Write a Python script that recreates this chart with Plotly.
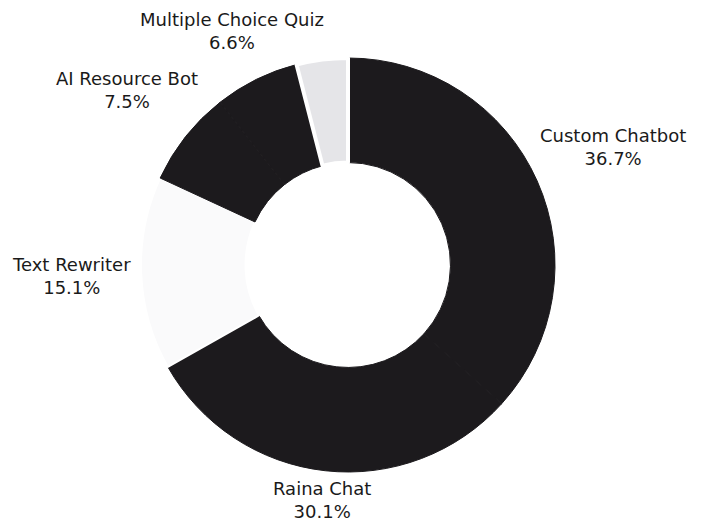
import math
import plotly.graph_objects as go

labels = ["Custom Chatbot", "Raina Chat", "Text Rewriter", "AI Resource Bot", "Multiple Choice Quiz", "Other"]
values = [36.7, 30.1, 15.1, 7.5, 6.6, 4.0]
show_label = [True, True, True, True, True, False]
colors = ["#1c1a1d", "#1c1a1d", "#fafafb", "#1c1a1d", "#1c1a1d", "#e5e5e8"]
line_colors = ["#1c1a1d", "#1c1a1d", "#ffffff", "#1c1a1d", "#1c1a1d", "#ffffff"]
line_widths = [1, 1, 2, 1, 1, 4]

W, H = 712, 525
OFF = 8                      # page body margin offset
cx, cy, R = 348 - OFF, 265 - OFF, 207
HOLE = 0.495
FS = 18
PAD = 9

# approximate DejaVu Sans advance widths (per em) for label layout
CW = {" ": 0.318, "A": 0.684, "B": 0.686, "C": 0.698, "M": 0.863, "Q": 0.787, "R": 0.695,
      "T": 0.611, "I": 0.295, "a": 0.613, "b": 0.635, "c": 0.550, "e": 0.615, "h": 0.634,
      "i": 0.278, "l": 0.278, "m": 0.974, "n": 0.634, "o": 0.612, "p": 0.635, "r": 0.411,
      "s": 0.521, "t": 0.392, "u": 0.634, "w": 0.818, "x": 0.592, "z": 0.525, "Q": 0.787,
      ".": 0.318, "%": 0.950}


def text_w(t):
    return sum(CW.get(ch, 0.636) for ch in t) * FS


fig = go.Figure(go.Pie(
    labels=labels,
    values=values,
    sort=False,
    direction="clockwise",
    rotation=0,
    hole=HOLE,
    marker=dict(colors=colors, line=dict(color=line_colors, width=line_widths)),
    textinfo="none",
    hoverinfo="label+percent",
    showlegend=False,
    domain=dict(x=[(cx - R) / W, (cx + R) / W], y=[(H - cy - R) / H, (H - cy + R) / H]),
))

# outside labels placed along each slice's mid-angle, just clear of the ring
total = sum(values)
cum = 0.0
annotations = []
for lab, v, show in zip(labels, values, show_label):
    mid = (cum + v / 2) / total * 2 * math.pi
    cum += v
    if not show:
        continue
    pct = f"{v / total * 100:.1f}%"
    a = max(text_w(lab), text_w(pct)) / 2
    b = 2.15 * FS / 2
    s, c = math.sin(mid), math.cos(mid)
    lo, hi = R, R + 500
    for _ in range(60):
        D = (lo + hi) / 2
        ex = max(abs(D * s) - a, 0)
        ey = max(abs(D * c) - b, 0)
        if math.hypot(ex, ey) < R + PAD:
            lo = D
        else:
            hi = D
    px = cx + D * s
    py = cy - D * c
    annotations.append(dict(
        x=px / W, y=(H - py) / H, xref="paper", yref="paper",
        text=f"{lab}<br>{pct}", showarrow=False,
        xanchor="center", yanchor="middle", align="center",
        font=dict(family="DejaVu Sans", size=FS, color="#1a1a1a"),
    ))

fig.update_layout(
    width=W, height=H,
    margin=dict(l=0, r=0, t=0, b=0),
    paper_bgcolor="#ffffff",
    plot_bgcolor="#ffffff",
    annotations=annotations,
)

fig.write_html("out.html")
